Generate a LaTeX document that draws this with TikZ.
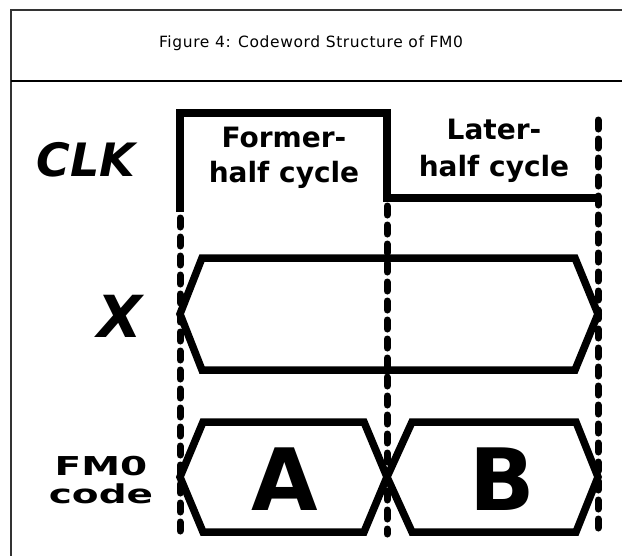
\documentclass[tikz,border=0pt]{standalone}
\usepackage{fontspec}
\setmainfont{DejaVu Sans}
\newfontfamily\titlefont[LetterSpace=4]{DejaVu Sans}
\tikzset{
  frameline/.style={draw=black!80, line width=1.4pt},
  sepline/.style={draw=black, line width=2.2pt},
  wave/.style={draw=black, line width=7.5pt, line join=miter, miter limit=3},
  guide/.style={draw=black, line width=7pt, line cap=round, dash pattern=on 9pt off 10pt},
  lbl/.style={font=\bfseries, inner sep=0pt, align=center},
}
\begin{document}
\begin{tikzpicture}[x=1pt, y=-1pt]
\useasboundingbox (0,0) rectangle (622,555);
\fill[white] (0,0) rectangle (622,555);
% frame
\coordinate (fTL) at (11,10);
\coordinate (fTR) at (625,10);
\coordinate (fBL) at (11,558);
\coordinate (sL) at (11,81);
\coordinate (sR) at (625,81);
\draw[frameline] (fBL) -- (fTL) -- (fTR);
\draw[sepline] (sL) -- (sR);
\node[font=\titlefont\fontsize{15.5}{18}\selectfont, inner sep=0pt] (title) at (311,43) {Figure 4: Codeword Structure of FM0};

% guide (dashed) lines
\coordinate (g1t) at (180,218);
\coordinate (g1b) at (180,534);
\coordinate (g2t) at (387,206);
\coordinate (g2b) at (387,534);
\coordinate (g3t) at (598,120);
\coordinate (g3b) at (598,534);
\draw[guide] (g1t) -- (g1b);
\draw[guide] (g2t) -- (g2b);
\draw[guide] (g3t) -- (g3b);

% CLK waveform
\coordinate (c0) at (180,212);
\coordinate (c1) at (180,113);
\coordinate (c2) at (387,113);
\coordinate (c3) at (387,198);
\coordinate (c4) at (598,198);
\draw[wave] (c0) -- (c1) -- (c2) -- (c3) -- (c4);

% X bus
\draw[wave] (180,314) -- (202,258) -- (575,258) -- (598,314) -- (575,370) -- (202,370) -- cycle;

% FM0 code bus
\draw[wave] (180,477) -- (203,422) -- (364,422) -- (387,477) -- (364,532) -- (203,532) -- cycle;
\draw[wave] (387,477) -- (412,422) -- (576,422) -- (598,477) -- (576,532) -- (412,532) -- cycle;

% labels
\node[lbl, font=\bfseries\itshape\fontsize{46}{48}\selectfont] (clk) at (86,160) {CLK};
\node[lbl, font=\bfseries\itshape\fontsize{58}{60}\selectfont] (x) at (120,316) {X};
\node[lbl, font=\bfseries\fontsize{26}{30}\selectfont, xscale=1.5] (fm0) at (101,480) {FM0\\[-2pt]code};
\node[lbl, font=\bfseries\fontsize{28}{35}\selectfont] (former) at (284,158) {Former-\\half cycle};
\node[lbl, font=\bfseries\fontsize{28}{37}\selectfont] (later) at (494,151) {Later-\\half cycle};
\node[lbl, font=\bfseries\fontsize{86}{88}\selectfont] (A) at (285,479) {A};
\node[lbl, font=\bfseries\fontsize{86}{88}\selectfont] (B) at (502,479) {B};
\end{tikzpicture}
\end{document}
